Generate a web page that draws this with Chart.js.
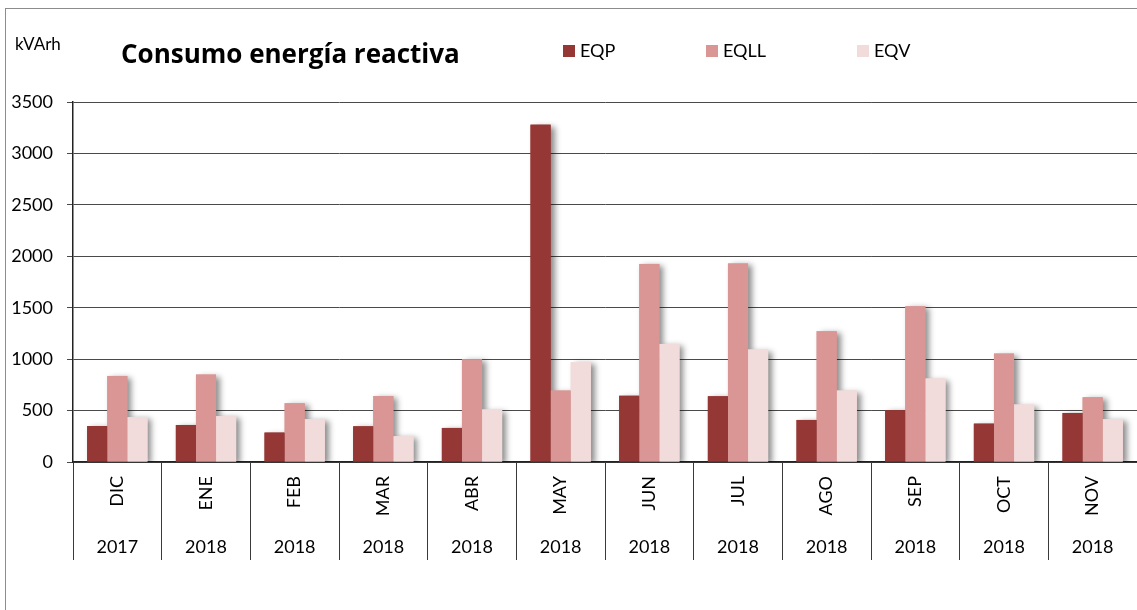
<!DOCTYPE html>
<html>
<head>
<meta charset="utf-8">
<script src="https://cdn.jsdelivr.net/npm/chart.js@4/dist/chart.umd.min.js"></script>
<style>
  body { margin: 0; background: #fff; }
  #wrap { position: relative; width: 1137px; height: 610px; overflow: hidden; }
</style>
</head>
<body>
<div id="wrap"><canvas id="energyChart" width="1137" height="610"></canvas></div>
<script>
const months = ["DIC", "ENE", "FEB", "MAR", "ABR", "MAY", "JUN", "JUL", "AGO", "SEP", "OCT", "NOV"];
const years = ["2017", "2018", "2018", "2018", "2018", "2018", "2018", "2018", "2018", "2018", "2018", "2018"];
const eqp = [350, 360, 286, 347, 331, 3280, 644, 639, 409, 503, 373, 477];
const eqll = [837, 850, 571, 642, 998, 694, 1926, 1930, 1271, 1514, 1054, 629];
const eqv = [435, 445, 415, 250, 510, 970, 1148, 1093, 694, 811, 558, 415];

const FONT = "Lato, 'Open Sans', sans-serif";

// excel style drop shadow, painted under all bars before they are drawn
const barShadow = {
    id: "barShadow",
    beforeDatasetsDraw(chart) {
        const c = chart.ctx;
        const a = chart.chartArea;
        c.save();
        c.beginPath();
        c.rect(a.left, a.top - 10, a.right - a.left + 10, a.bottom - a.top + 10);
        c.clip();
        c.shadowColor = "rgba(0,0,0,0.45)";
        c.shadowBlur = 6;
        c.shadowOffsetX = 4;
        c.shadowOffsetY = 2;
        chart.data.datasets.forEach((ds, i) => {
            chart.getDatasetMeta(i).data.forEach(bar => {
                const p = bar.getProps(["x", "y", "base", "width"], true);
                c.fillStyle = ds.backgroundColor;
                c.fillRect(p.x - p.width / 2, p.y, p.width, p.base - p.y);
            });
        });
        c.restore();
    }
};

// frame, unit, title and legend
const decor = {
    id: "decor",
    beforeDraw(chart) {
        const c = chart.ctx;
        c.save();
        c.strokeStyle = "#8c8c8c";
        c.lineWidth = 1;
        c.strokeRect(5.5, 8.5, 2000, 2000);
        c.restore();
    },
    afterDraw(chart) {
        const c = chart.ctx;
        c.save();
        c.fillStyle = "#000";
        c.textBaseline = "alphabetic";
        c.font = "17px " + FONT;
        c.fillText("kVArh", 15, 50);
        c.font = "bold 26px 'Open Sans', sans-serif";
        c.fillText("Consumo energía reactiva", 121, 63);

        const boxX = [563, 706, 857];
        c.font = "18px " + FONT;
        chart.data.datasets.forEach((ds, i) => {
            c.fillStyle = ds.backgroundColor;
            c.fillRect(boxX[i], 45, 12, 12);
            c.fillStyle = "#000";
            c.fillText(ds.label, boxX[i] + 17, 57);
        });
        c.restore();
    }
};

new Chart(document.getElementById("energyChart"), {
    type: "bar",
    data: {
        labels: months,
        datasets: [
            { label: "EQP", data: eqp, backgroundColor: "#953735" },
            { label: "EQLL", data: eqll, backgroundColor: "#d99694" },
            { label: "EQV", data: eqv, backgroundColor: "#f2dcdb" }
        ]
    },
    options: {
        responsive: false,
        animation: false,
        categoryPercentage: 0.68,
        barPercentage: 1,
        layout: { padding: { top: 102, bottom: 50, left: 5, right: 0 } },
        plugins: {
            legend: { display: false },
            title: { display: false },
            tooltip: { enabled: false }
        },
        scales: {
            x: {
                weight: 0,
                afterFit: s => { s.height = 56; },
                grid: {
                    offset: true,
                    drawOnChartArea: false,
                    tickLength: 56,
                    color: "#3a3a3a"
                },
                border: { display: true, color: "#222", width: 1.5 },
                ticks: {
                    minRotation: 90,
                    maxRotation: 90,
                    padding: -42,
                    autoSkip: false,
                    color: "#000",
                    font: { family: FONT, size: 18 }
                }
            },
            x2: {
                type: "category",
                position: "bottom",
                labels: years,
                offset: true,
                weight: 1,
                afterFit: s => { s.height = 42; },
                grid: {
                    offset: true,
                    drawOnChartArea: false,
                    tickLength: 42,
                    color: "#3a3a3a"
                },
                border: { display: false },
                ticks: {
                    maxRotation: 0,
                    padding: -24,
                    autoSkip: false,
                    color: "#000",
                    font: { family: FONT, size: 18 }
                }
            },
            y: {
                min: 0,
                max: 3500,
                afterFit: s => { s.width = 68; },
                ticks: {
                    stepSize: 500,
                    padding: 14,
                    color: "#000",
                    font: { family: FONT, size: 18 },
                    callback: v => String(v)
                },
                grid: {
                    color: "#4a4a4a",
                    lineWidth: 1,
                    tickLength: 6
                },
                border: { display: true, color: "#222", width: 1.5 }
            }
        }
    },
    plugins: [barShadow, decor]
});
</script>
</body>
</html>
